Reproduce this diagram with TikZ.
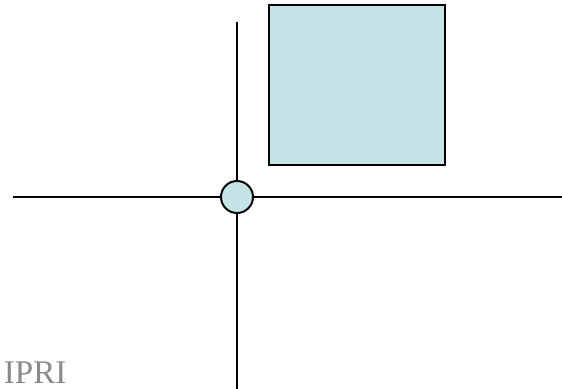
\documentclass[tikz,border=0pt]{standalone}
\usepackage{fontspec}
\setmainfont{Liberation Serif}
\definecolor{paleblue}{RGB}{198,228,232}
\definecolor{logogray}{RGB}{138,138,138}
\begin{document}
\begin{tikzpicture}[x=0.025cm, y=-0.025cm, line width=1.4pt]
    \useasboundingbox (0,0) rectangle (562,389);

    % Ends of the cross
    \coordinate (west) at (13,197);
    \coordinate (east) at (562,197);
    \coordinate (north) at (237,22);
    \coordinate (south) at (237,389);

    % Crossing and box
    \node[circle, draw, fill=paleblue, inner sep=0pt, minimum size=0.8cm] (hub) at (237,197) {};
    \node[rectangle, draw, line width=1.2pt, fill=paleblue, inner sep=0pt,
          minimum width=4.4cm, minimum height=4cm] (box) at (357,85) {};

    % Lines
    \draw (west) -- (hub.west);
    \draw (hub.east) -- (east);
    \draw (north) -- (hub.north);
    \draw (hub.south) -- (south);

    % Label
    \node[anchor=base west, inner sep=0pt, text=logogray,
          font=\fontsize{23.5}{28}\selectfont] (logo) at (3,383) {IPRI};
\end{tikzpicture}
\end{document}
